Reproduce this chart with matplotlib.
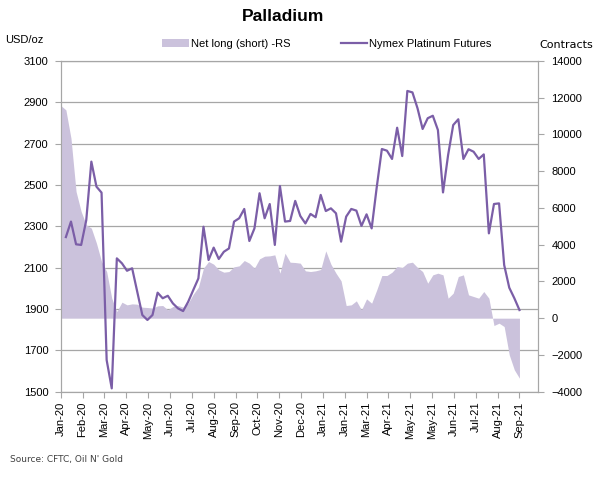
import numpy as np
import matplotlib
matplotlib.use("Agg")
import matplotlib.pyplot as plt

plt.rcParams['font.family'] = ['Liberation Sans', 'DejaVu Sans']

# x axis labels, one every 30 days starting 7 Jan 2020
tick_labels = ["Jan-20", "Feb-20", "Mar-20", "Apr-20", "May-20", "Jun-20", "Jul-20",
               "Aug-20", "Sep-20", "Oct-20", "Nov-20", "Dec-20", "Jan-21", "Jan-21",
               "Mar-21", "Apr-21", "May-21", "May-21", "Jun-21", "Jul-21", "Aug-21", "Sep-21"]

# weekly data, Jan 2020 - Sep 2021
price = [np.nan, 2248, 2323, 2213, 2210, 2330, 2613, 2492, 2463, 1653, 1516,
         2145, 2121, 2085, 2097, 1984, 1871, 1847, 1871, 1979, 1952,
         1964, 1927, 1903, 1890, 1935, 1992, 2048, 2298, 2137, 2197,
         2142, 2177, 2193, 2323, 2339, 2384, 2229, 2290, 2460, 2339,
         2408, 2210, 2495, 2323, 2326, 2423, 2350, 2314, 2360, 2344,
         2452, 2374, 2387, 2363, 2226, 2347, 2384, 2376, 2302, 2358,
         2290, 2490, 2674, 2666, 2626, 2777, 2640, 2955, 2948, 2871,
         2771, 2823, 2835, 2766, 2464, 2645, 2790, 2818, 2626, 2673,
         2661, 2626, 2648, 2266, 2408, 2411, 2113, 2003, 1952, 1895]

net_long = [11577, 11340, 9798, 6895, 5806, 5080, 4899, 4083, 3085, 2540, 1089,
            363, 871, 726, 780, 762, 599, 581, 544, 671, 690,
            454, 635, 690, 600, 816, 1306, 1687, 2722, 3085, 2940,
            2631, 2504, 2540, 2794, 2849, 3139, 2994, 2722, 3230, 3375,
            3393, 3448, 2450, 3538, 3048, 3030, 2994, 2577, 2540, 2577,
            2649, 3665, 2940, 2450, 2032, 690, 726, 944, 454, 1052,
            816, 1542, 2323, 2323, 2504, 2812, 2758, 2994, 3048, 2758,
            2540, 1905, 2359, 2450, 2359, 1089, 1361, 2268, 2359, 1270,
            1179, 1089, 1452, 1089, -399, -272, -454, -1996, -2812, -3266]

days = np.arange(len(net_long)) * 7
tick_days = np.arange(len(tick_labels)) * 30

line_col = "#7b5ea7"
fill_col = "#cbc2dc"
axis_col = "#a6a6a6"

fig = plt.figure(figsize=(6, 4.79), dpi=100)

# left axis: price scale + gridlines
ax = fig.add_axes([0.1013, 0.1823, 0.7948, 0.6904])
ax.set_xlim(0, 655)
ax.set_ylim(1500, 3100)
ax.set_yticks(np.arange(1500, 3101, 200))
ax.grid(axis="y", color=axis_col, lw=0.9)
ax.set_axisbelow(True)
ax.set_xticks(tick_days)
ax.set_xticklabels(tick_labels, rotation=90, fontsize=8)
ax.tick_params(axis="y", labelsize=8, length=4, color=axis_col, pad=5)
ax.tick_params(axis="x", length=4, color=axis_col, pad=3)
for s in ax.spines.values():
    s.set_color(axis_col)

# right axis: net long contracts as area
axr = ax.twinx()
fill = axr.fill_between(days, 0, net_long, color=fill_col, lw=0,
                        label="Net long (short) -RS")
axr.set_ylim(-4000, 14000)
axr.set_yticks(np.arange(-4000, 14001, 2000))
axr.tick_params(axis="y", labelsize=8, length=4, color=axis_col, pad=6)
for s in axr.spines.values():
    s.set_color(axis_col)

# price line on top, same scale as left axis
axp = ax.twinx()
axp.set_ylim(ax.get_ylim())
line, = axp.plot(days, price, color=line_col, lw=1.6,
                 label="Nymex Platinum Futures")
axp.set_yticks([])
for s in axp.spines.values():
    s.set_visible(False)

fig.text(0.472, 0.966, "Palladium", fontsize=12.5, fontweight="bold",
         ha="center", va="center")
fig.text(0.008, 0.916, "USD/oz", fontsize=8, ha="left", va="center")
fig.text(0.943, 0.907, "Contracts", fontsize=8, ha="center", va="center",
         family="DejaVu Sans")
fig.legend(handles=[fill, line], loc="center", bbox_to_anchor=(0.545, 0.908),
           ncol=2, frameon=False, fontsize=8, handlelength=2.4,
           handletextpad=0.2, columnspacing=4.5)
fig.text(0.017, 0.04, "Source: CFTC, Oil N' Gold", fontsize=6.5,
         family="DejaVu Sans", color="#404040", ha="left", va="center")

fig.savefig("out.png", dpi=100)
